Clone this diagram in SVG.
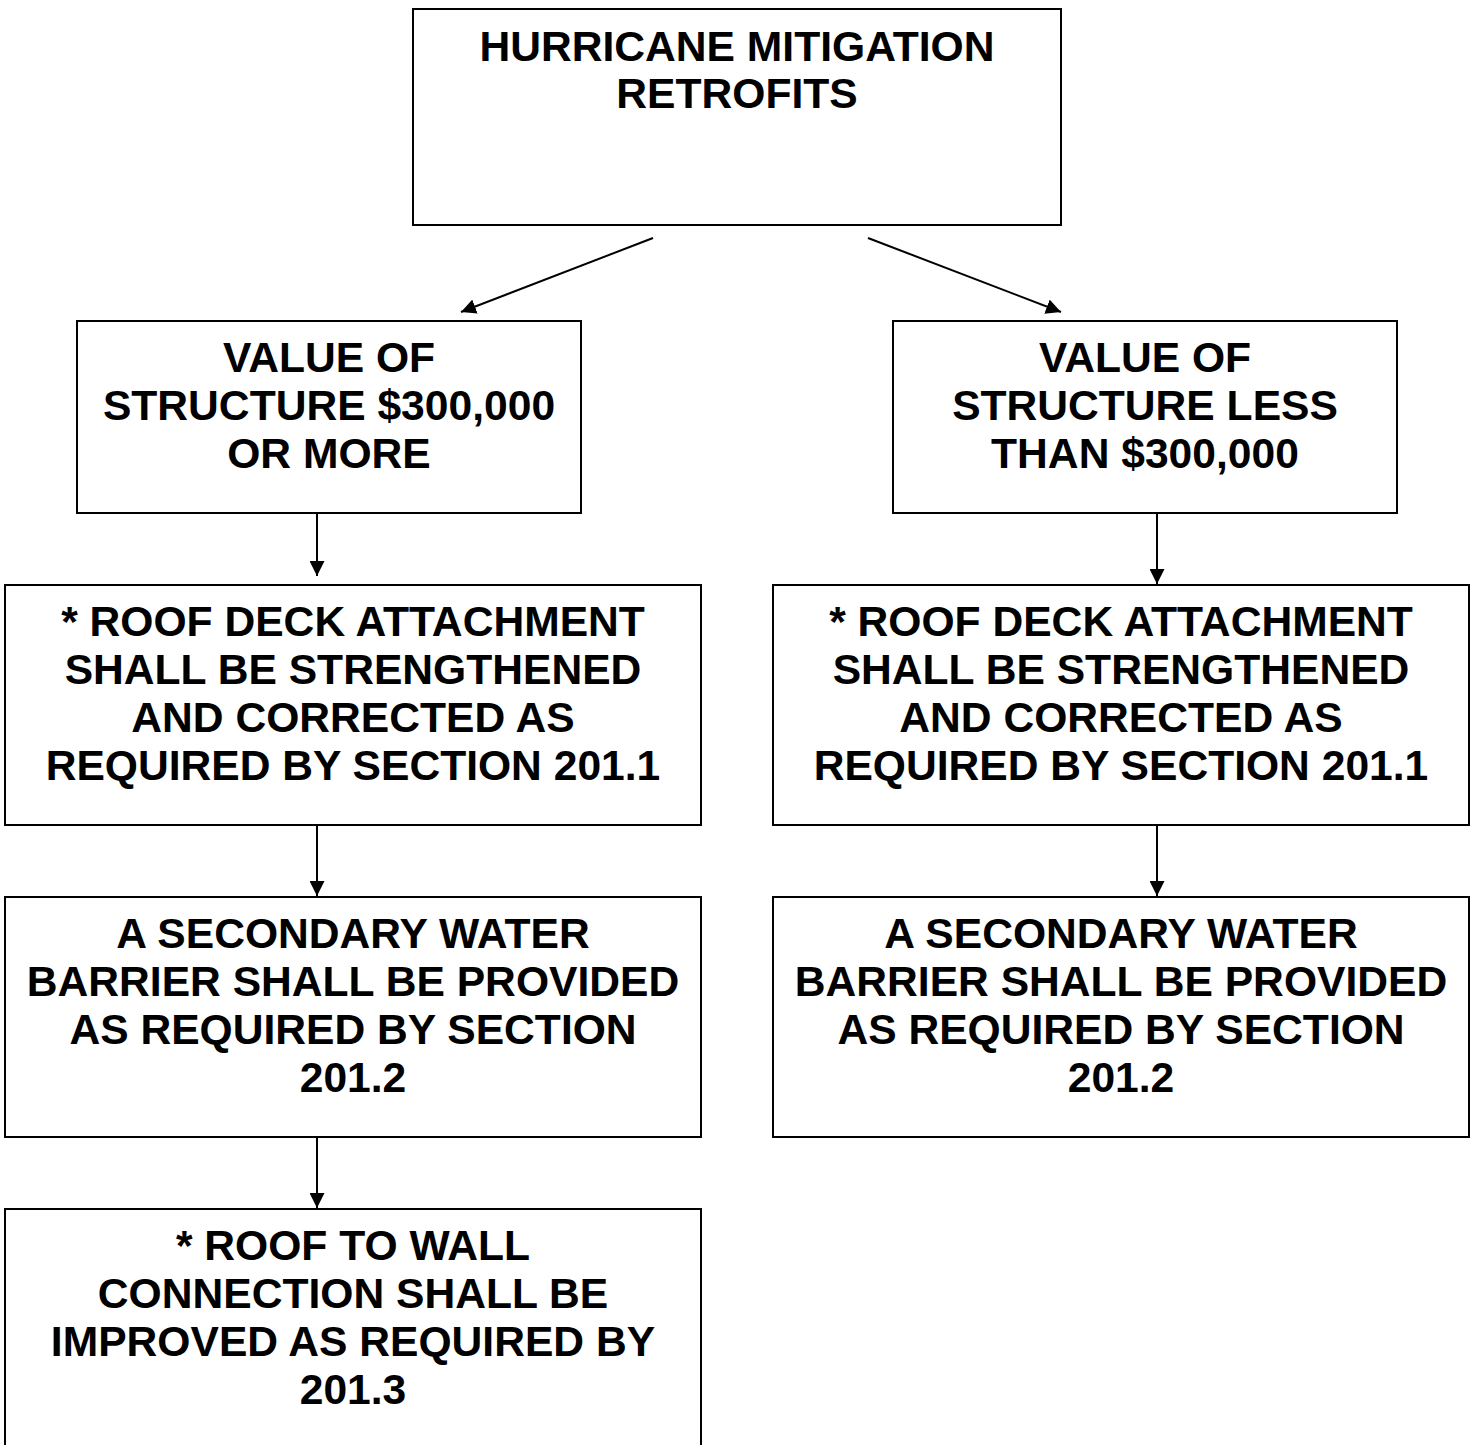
<svg xmlns="http://www.w3.org/2000/svg" width="1475" height="1445" viewBox="0 0 1475 1445">
<style>
.box{fill:#fff;stroke:#000;stroke-width:2}
.t{font-family:"Liberation Sans",Arial,sans-serif;font-weight:bold;font-size:42.6px;text-anchor:middle;fill:#000}
.c{stroke:#000;stroke-width:2;fill:none;marker-end:url(#ah)}
</style>
<defs>
<marker id="ah" viewBox="0 0 15 15" refX="15" refY="7.5" markerWidth="15" markerHeight="15" markerUnits="userSpaceOnUse" orient="auto">
<path d="M0,0 L15,7.5 L0,15 z" fill="#000"/>
</marker>
</defs>
<rect width="1475" height="1445" fill="#fff"/>
<g id="connectors">
<line class="c" x1="653" y1="238" x2="461" y2="312"/>
<line class="c" x1="868" y1="238" x2="1061" y2="312"/>
<line class="c" x1="317" y1="514" x2="317" y2="576"/>
<line class="c" x1="1157" y1="514" x2="1157" y2="584"/>
<line class="c" x1="317" y1="826" x2="317" y2="896"/>
<line class="c" x1="1157" y1="826" x2="1157" y2="896"/>
<line class="c" x1="317" y1="1138" x2="317" y2="1208"/>
</g>
<g id="n1">
<rect class="box" x="413" y="9" width="648" height="216"/>
<text class="t" x="737" y="61">HURRICANE MITIGATION</text>
<text class="t" x="737" y="108">RETROFITS</text>
</g>
<g id="n2">
<rect class="box" x="77" y="321" width="504" height="192"/>
<text class="t" x="329" y="372">VALUE OF</text>
<text class="t" x="329" y="420">STRUCTURE $300,000</text>
<text class="t" x="329" y="468">OR MORE</text>
</g>
<g id="n3">
<rect class="box" x="893" y="321" width="504" height="192"/>
<text class="t" x="1145" y="372">VALUE OF</text>
<text class="t" x="1145" y="420">STRUCTURE LESS</text>
<text class="t" x="1145" y="468">THAN $300,000</text>
</g>
<g id="n4">
<rect class="box" x="5" y="585" width="696" height="240"/>
<text class="t" x="353" y="636">* ROOF DECK ATTACHMENT</text>
<text class="t" x="353" y="684">SHALL BE STRENGTHENED</text>
<text class="t" x="353" y="732">AND CORRECTED AS</text>
<text class="t" x="353" y="780">REQUIRED BY SECTION 201.1</text>
</g>
<g id="n5">
<rect class="box" x="773" y="585" width="696" height="240"/>
<text class="t" x="1121" y="636">* ROOF DECK ATTACHMENT</text>
<text class="t" x="1121" y="684">SHALL BE STRENGTHENED</text>
<text class="t" x="1121" y="732">AND CORRECTED AS</text>
<text class="t" x="1121" y="780">REQUIRED BY SECTION 201.1</text>
</g>
<g id="n6">
<rect class="box" x="5" y="897" width="696" height="240"/>
<text class="t" x="353" y="948">A SECONDARY WATER</text>
<text class="t" x="353" y="996">BARRIER SHALL BE PROVIDED</text>
<text class="t" x="353" y="1044">AS REQUIRED BY SECTION</text>
<text class="t" x="353" y="1092">201.2</text>
</g>
<g id="n7">
<rect class="box" x="773" y="897" width="696" height="240"/>
<text class="t" x="1121" y="948">A SECONDARY WATER</text>
<text class="t" x="1121" y="996">BARRIER SHALL BE PROVIDED</text>
<text class="t" x="1121" y="1044">AS REQUIRED BY SECTION</text>
<text class="t" x="1121" y="1092">201.2</text>
</g>
<g id="n8">
<rect class="box" x="5" y="1209" width="696" height="260"/>
<text class="t" x="353" y="1260">* ROOF TO WALL</text>
<text class="t" x="353" y="1308">CONNECTION SHALL BE</text>
<text class="t" x="353" y="1356">IMPROVED AS REQUIRED BY</text>
<text class="t" x="353" y="1404">201.3</text>
</g>
</svg>
